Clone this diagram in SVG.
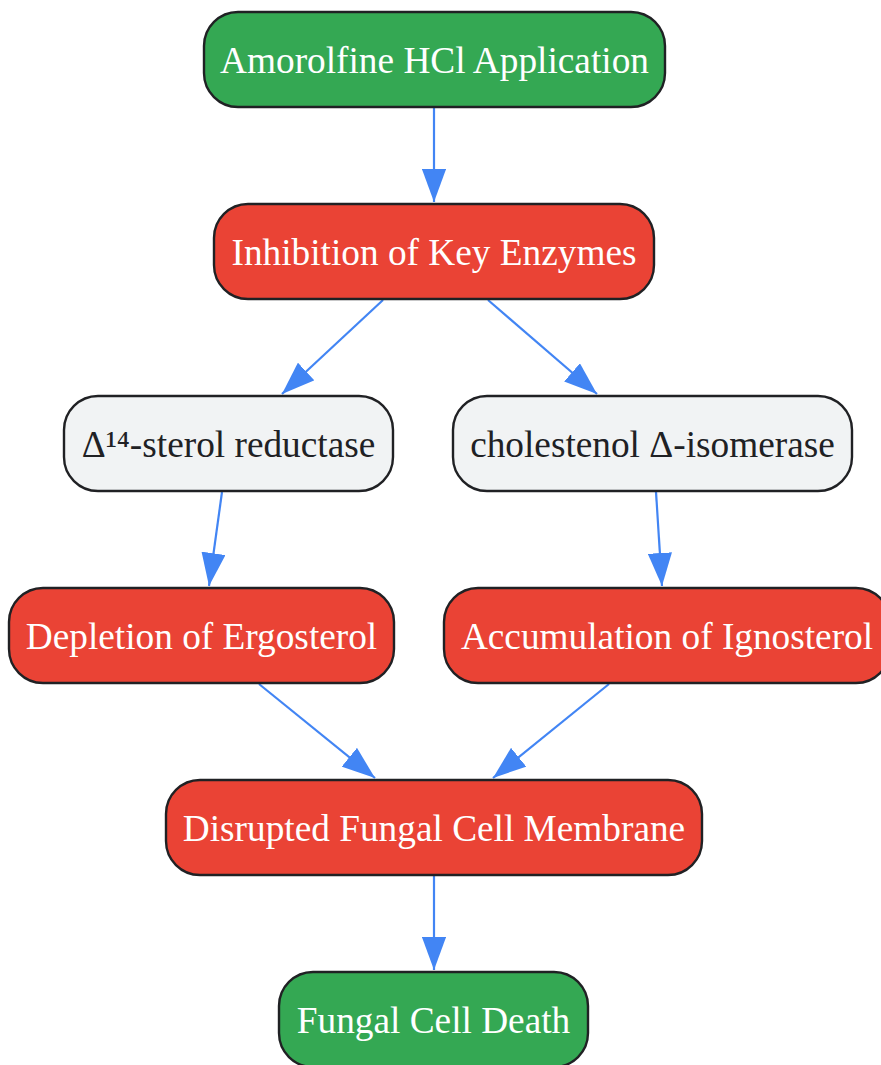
<svg xmlns="http://www.w3.org/2000/svg" width="881" height="1065" viewBox="0 0 881 1065">
<style>
.n rect{stroke:#202124;stroke-width:2.4}
.g rect{fill:#34A853}
.r rect{fill:#EA4335}
.w rect{fill:#F1F3F4}
.n text{font-family:"Liberation Serif","Times New Roman",serif;font-size:37.3px;text-anchor:middle;fill:#FFFFFF}
.w text{fill:#202124}
.e path{fill:none;stroke:#4285F4;stroke-width:2.2}
</style>
<defs>
<marker id="ah" markerWidth="16" markerHeight="11" refX="15" refY="5.5" orient="auto" markerUnits="strokeWidth">
<path d="M0,0 L15,5.5 L0,11 Z" fill="#4285F4"/>
</marker>
</defs>
<g id="edges" class="e">
<path d="M434,108 L434,202" marker-end="url(#ah)"/>
<path d="M383,300 L282,394" marker-end="url(#ah)"/>
<path d="M488,300 L597,394" marker-end="url(#ah)"/>
<path d="M222,492 L209,586" marker-end="url(#ah)"/>
<path d="M656,492 L662,586" marker-end="url(#ah)"/>
<path d="M259,684 L375,778" marker-end="url(#ah)"/>
<path d="M609,684 L493,778" marker-end="url(#ah)"/>
<path d="M434,876 L434,970" marker-end="url(#ah)"/>
</g>
<g id="n1" class="n g"><rect x="204" y="12" width="461" height="95" rx="34"/><text x="434.5" y="73">Amorolfine HCl Application</text></g>
<g id="n2" class="n r"><rect x="214" y="204" width="440" height="95" rx="34"/><text x="434" y="265">Inhibition of Key Enzymes</text></g>
<g id="n3" class="n w"><rect x="64" y="396" width="329" height="95" rx="34"/><text x="228.5" y="457">Δ¹⁴-sterol reductase</text></g>
<g id="n4" class="n w"><rect x="453" y="396" width="399" height="95" rx="34"/><text x="652.5" y="457">cholestenol Δ-isomerase</text></g>
<g id="n5" class="n r"><rect x="9" y="588" width="385" height="95" rx="34"/><text x="201.5" y="649">Depletion of Ergosterol</text></g>
<g id="n6" class="n r"><rect x="444" y="588" width="446" height="95" rx="34"/><text x="667" y="649">Accumulation of Ignosterol</text></g>
<g id="n7" class="n r"><rect x="166" y="780" width="536" height="95" rx="34"/><text x="434" y="841">Disrupted Fungal Cell Membrane</text></g>
<g id="n8" class="n g"><rect x="279" y="972" width="309" height="95" rx="34"/><text x="433.5" y="1033">Fungal Cell Death</text></g>
</svg>
